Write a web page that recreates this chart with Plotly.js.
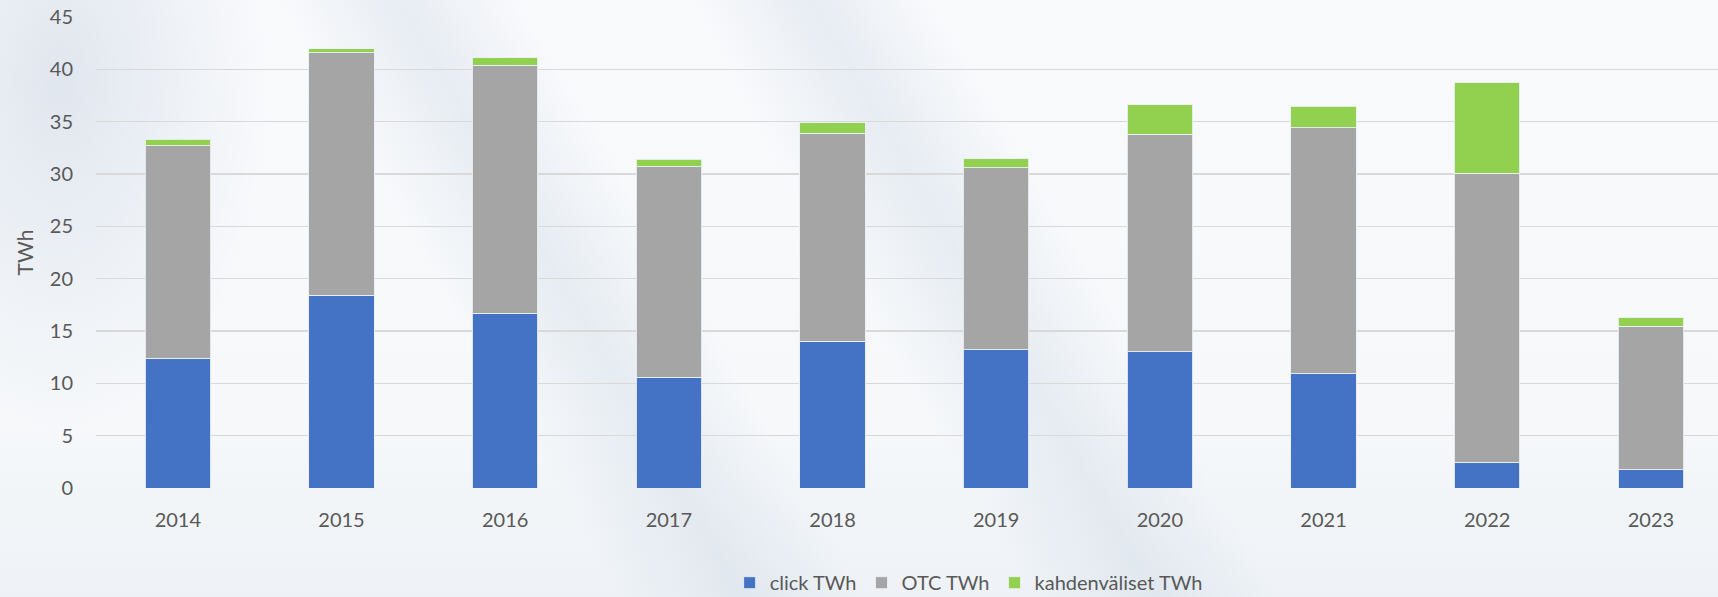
<!DOCTYPE html>
<html>
<head>
<meta charset="utf-8">
<script src="https://cdn.plot.ly/plotly-3.0.1.min.js"></script>
<style>
  html, body { margin:0; padding:0; width:1718px; height:597px; overflow:hidden; }
  body {
    background:
      radial-gradient(ellipse 300px 500px at 60px 80px, rgba(205,215,228,0.55), rgba(205,215,228,0) 70%),
      linear-gradient(60deg, rgba(200,212,225,0) 30%, rgba(200,212,225,0.35) 36%, rgba(200,212,225,0) 42%),
      linear-gradient(60deg, rgba(200,212,225,0) 50%, rgba(200,212,225,0.35) 56%, rgba(200,212,225,0) 62%),
      linear-gradient(180deg, #f9fafc 0%, #f6f8fa 70%, #eef2f6 100%);
  }
  #chart { width:1718px; height:597px; }
</style>
</head>
<body>
<div id="chart"></div>
<script>
const years = ['2014','2015','2016','2017','2018','2019','2020','2021','2022','2023'];
const clickTWh = [12.4, 18.4, 16.7, 10.6, 14.0, 13.2, 13.0, 10.9, 2.45, 1.75];
const otcTWh = [20.3, 23.2, 23.7, 20.1, 19.9, 17.4, 20.8, 23.5, 27.6, 13.7];
const kahdenvalisetTWh = [0.64, 0.35, 0.7, 0.7, 0.98, 0.86, 2.8, 2.07, 8.65, 0.82];
const yTicks = [0, 5, 10, 15, 20, 25, 30, 35, 40, 45];

const font = "Lato, 'Open Sans', sans-serif";
const outline = {color: 'rgba(235,240,245,0.9)', width: 1};

const traces = [
  {type:'bar', name:'click TWh', x: years, y: clickTWh, marker:{color:'#4472C4', line: outline}},
  {type:'bar', name:'OTC TWh', x: years, y: otcTWh, marker:{color:'#A5A5A5', line: outline}},
  {type:'bar', name:'kahdenväliset TWh', x: years, y: kahdenvalisetTWh, marker:{color:'#92D050', line: outline}}
];

const layout = {
  width: 1718, height: 597,
  barmode: 'stack',
  bargap: 0.6,
  paper_bgcolor: 'rgba(0,0,0,0)',
  plot_bgcolor: 'rgba(0,0,0,0)',
  margin: {l: 96, r: 0, t: 17, b: 109, autoexpand: false},
  font: {family: font, size: 20, color: '#595959'},
  xaxis: {
    type: 'category',
    range: [-0.5, 9.41],
    showgrid: false, zeroline: false, showline: false,
    ticks: '', ticklabelstandoff: 18,
    tickfont: {family: font, size: 20, color: '#595959'}
  },
  yaxis: {
    range: [0, 45],
    tickvals: yTicks,
    ticktext: yTicks.map(String),
    showgrid: true, gridcolor: '#d9d9d9', gridwidth: 1.5,
    zeroline: false, showline: false,
    ticks: '', ticklabelstandoff: 22,
    tickfont: {family: font, size: 20, color: '#595959'},
    title: {text: 'TWh', font: {family: font, size: 21, color: '#595959'}, standoff: 10}
  },
  showlegend: true,
  legend: {
    orientation: 'h',
    x: 0.538, xanchor: 'center',
    yref: 'container',
    y: 0.024, yanchor: 'middle',
    font: {family: font, size: 20, color: '#595959'},
    bgcolor: 'rgba(0,0,0,0)',
    traceorder: 'normal',
    itemwidth: 30
  }
};

Plotly.newPlot('chart', traces, layout, {displayModeBar: false, staticPlot: true});
</script>
</body>
</html>
